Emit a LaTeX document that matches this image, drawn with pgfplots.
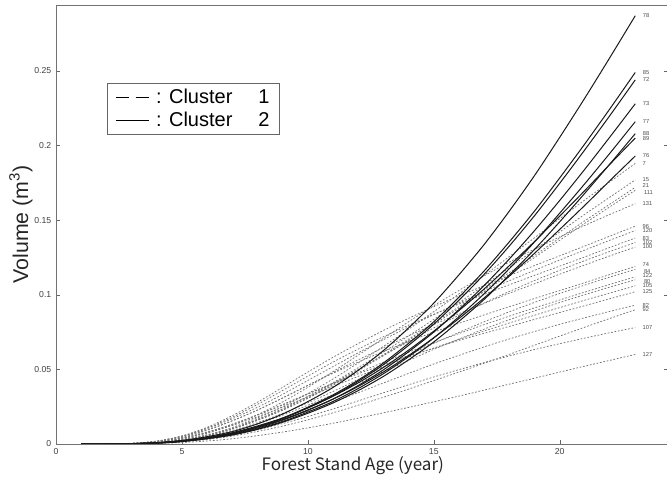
\documentclass[border=0pt]{standalone}
\usepackage{pgfplots}
\pgfplotsset{compat=1.18}
\usepackage{pgfplotstable}
\usepackage{fontspec}
\setmainfont{Liberation Sans}
\newfontfamily\jpfont{Noto Sans CJK JP}

% Stem volume (m^3) by stand age, cluster 2 (solid)
\pgfplotstableread{
t  c78    c85    c72    c73    c77    c88    c89    c76
1  0      0      0      0      0      0      0      0
2  0      0      0      0      0      0      0      0
3  0.0003 0.0002 0.0002 0.0002 0.0002 0.0002 0.0002 0.0002
4  0.0009 0.0007 0.0007 0.0007 0.0006 0.0006 0.0008 0.0008
5  0.0023 0.0020 0.0020 0.0018 0.0017 0.0017 0.0023 0.0021
6  0.0049 0.0042 0.0041 0.0039 0.0037 0.0035 0.0043 0.0041
7  0.0083 0.0072 0.0071 0.0066 0.0063 0.0060 0.0076 0.0071
8  0.0135 0.0117 0.0115 0.0107 0.0102 0.0098 0.0121 0.0114
9  0.0201 0.0174 0.0171 0.0160 0.0151 0.0146 0.0174 0.0164
10 0.0284 0.0247 0.0242 0.0226 0.0214 0.0206 0.0242 0.0228
11 0.0379 0.0329 0.0322 0.0301 0.0285 0.0275 0.0320 0.0301
12 0.0494 0.0428 0.0420 0.0392 0.0372 0.0358 0.0410 0.0386
13 0.0626 0.0543 0.0532 0.0497 0.0471 0.0453 0.0513 0.0483
14 0.0778 0.0675 0.0661 0.0618 0.0585 0.0564 0.0629 0.0593
15 0.0944 0.0819 0.0803 0.0750 0.0711 0.0684 0.0756 0.0712
16 0.1134 0.0984 0.0964 0.0901 0.0853 0.0822 0.0894 0.0841
17 0.1337 0.1160 0.1137 0.1062 0.1007 0.0969 0.1039 0.0979
18 0.1561 0.1355 0.1327 0.1240 0.1175 0.1132 0.1195 0.1125
19 0.1799 0.1561 0.1530 0.1430 0.1354 0.1304 0.1357 0.1278
20 0.2055 0.1783 0.1747 0.1632 0.1547 0.1489 0.1527 0.1438
21 0.2319 0.2012 0.1972 0.1842 0.1745 0.1681 0.1699 0.1600
22 0.2592 0.2248 0.2203 0.2059 0.1950 0.1878 0.1876 0.1766
23 0.287  0.249  0.244  0.228  0.216  0.208  0.205  0.193
}\solidtab

% Stem volume (m^3) by stand age, cluster 1 (dashed)
\pgfplotstableread{
t  c7     c15    c21    c111   c131   c96    c120   c83    c102   c100   c74    c84    c122   c80    c105   c125   c82    c92    c107   c127
1  0      0      0      0      0      0      0      0      0      0      0      0      0      0      0      0      0      0      0      0
2  0      0      0      0      0      0      0      0      0      0      0      0      0      0      0      0      0      0      0      0
3  0.0002 0.0002 0.0002 0.0002 0.0003 0.0004 0.0004 0.0004 0.0003 0.0004 0.0004 0.0002 0.0003 0.0002 0.0003 0.0003 0.0002 0.0001 0.0002 0.0001
4  0.0009 0.0009 0.0009 0.0009 0.0013 0.0019 0.0020 0.0018 0.0011 0.0018 0.0015 0.0009 0.0016 0.0009 0.0015 0.0013 0.0007 0.0005 0.0006 0.0003
5  0.0030 0.0028 0.0028 0.0027 0.0035 0.0054 0.0053 0.0051 0.0030 0.0049 0.0044 0.0026 0.0041 0.0024 0.0039 0.0038 0.0020 0.0014 0.0017 0.0010
6  0.0062 0.0058 0.0057 0.0056 0.0072 0.0112 0.0103 0.0106 0.0061 0.0095 0.0092 0.0053 0.0081 0.0050 0.0076 0.0079 0.0042 0.0030 0.0035 0.0020
7  0.0111 0.0104 0.0101 0.0100 0.0126 0.0190 0.0169 0.0179 0.0105 0.0156 0.0155 0.0091 0.0132 0.0086 0.0125 0.0133 0.0073 0.0053 0.0061 0.0035
8  0.0175 0.0165 0.0160 0.0158 0.0196 0.0280 0.0246 0.0265 0.0165 0.0227 0.0228 0.0143 0.0193 0.0134 0.0182 0.0196 0.0113 0.0084 0.0095 0.0056
9  0.0250 0.0235 0.0229 0.0226 0.0282 0.0380 0.0333 0.0359 0.0236 0.0308 0.0309 0.0205 0.0261 0.0193 0.0247 0.0265 0.0163 0.0120 0.0137 0.0080
10 0.0338 0.0319 0.0310 0.0306 0.0380 0.0482 0.0426 0.0455 0.0319 0.0393 0.0393 0.0276 0.0334 0.0260 0.0316 0.0337 0.0219 0.0162 0.0184 0.0108
11 0.0436 0.0411 0.0399 0.0394 0.0485 0.0581 0.0519 0.0549 0.0406 0.0479 0.0474 0.0352 0.0407 0.0331 0.0385 0.0406 0.0280 0.0209 0.0235 0.0139
12 0.0543 0.0512 0.0497 0.0491 0.0596 0.0673 0.0611 0.0636 0.0500 0.0564 0.0549 0.0433 0.0478 0.0407 0.0453 0.0470 0.0344 0.0260 0.0289 0.0173
13 0.0654 0.0616 0.0599 0.0592 0.0708 0.0761 0.0699 0.0719 0.0594 0.0645 0.0620 0.0515 0.0548 0.0484 0.0518 0.0531 0.0409 0.0313 0.0343 0.0209
14 0.0769 0.0724 0.0703 0.0695 0.0819 0.0842 0.0785 0.0796 0.0687 0.0725 0.0687 0.0596 0.0615 0.0560 0.0582 0.0589 0.0473 0.0368 0.0397 0.0245
15 0.0887 0.0835 0.0812 0.0802 0.0927 0.0920 0.0867 0.0869 0.0778 0.0800 0.0750 0.0674 0.0679 0.0634 0.0642 0.0643 0.0536 0.0425 0.0449 0.0283
16 0.1006 0.0947 0.0920 0.0910 0.1029 0.0993 0.0945 0.0938 0.0863 0.0873 0.0809 0.0748 0.0740 0.0703 0.0701 0.0694 0.0594 0.0482 0.0498 0.0321
17 0.1130 0.1064 0.1034 0.1022 0.1127 0.1061 0.1021 0.1003 0.0945 0.0942 0.0865 0.0819 0.0800 0.0770 0.0757 0.0742 0.0651 0.0541 0.0546 0.0361
18 0.1256 0.1182 0.1149 0.1136 0.1219 0.1129 0.1094 0.1067 0.1022 0.1010 0.0920 0.0886 0.0857 0.0833 0.0811 0.0788 0.0704 0.0601 0.0590 0.0401
19 0.1382 0.1301 0.1264 0.1250 0.1306 0.1196 0.1164 0.1130 0.1095 0.1074 0.0975 0.0949 0.0912 0.0892 0.0863 0.0835 0.0754 0.0662 0.0633 0.0441
20 0.1510 0.1421 0.1381 0.1365 0.1388 0.1261 0.1233 0.1192 0.1164 0.1138 0.1028 0.1009 0.0965 0.0948 0.0914 0.0881 0.0802 0.0723 0.0672 0.0482
21 0.1636 0.1540 0.1496 0.1479 0.1465 0.1327 0.1300 0.1254 0.1229 0.1200 0.1082 0.1065 0.1018 0.1001 0.0964 0.0927 0.0846 0.0783 0.0710 0.0522
22 0.1758 0.1655 0.1608 0.1590 0.1539 0.1394 0.1366 0.1318 0.1291 0.1261 0.1136 0.1119 0.1070 0.1052 0.1012 0.0974 0.0889 0.0842 0.0746 0.0561
23 0.188  0.177  0.172  0.170  0.161  0.146  0.143  0.138  0.135  0.132  0.119  0.117  0.112  0.110  0.106  0.102  0.093  0.090  0.078  0.060
}\dashtab

\pgfplotsset{
  clusterone/.style={black!55, line width=0.55pt, dash pattern=on 1.3pt off 1.3pt, smooth},
  clustertwo/.style={black!90, line width=0.75pt, smooth},
}
\tikzset{
  endlabel/.style={anchor=west, xshift=5pt, inner sep=0.3pt,
    font=\fontsize{4.3}{4.5}\selectfont, text=black!70},
}

\begin{document}
\begin{tikzpicture}
\begin{axis}[
  name=ax,
  scale only axis,
  width=459pt, height=329.25pt,
  xmin=0, xmax=24.3, ymin=0, ymax=0.2942,
  axis line style={black!55},
  tick align=inside,
  major tick length=3pt,
  tick style={black!60},
  xtick={0,5,10,15,20},
  xticklabels={0,5,10,15,20},
  ytick={0,0.05,0.1,0.15,0.2,0.25},
  yticklabels={0,0.05,0.1,0.15,0.2,0.25},
  xtick pos=bottom,
  ytick pos=both,
  ticklabel style={font=\fontsize{6.5}{7}\selectfont, text=black!75},
  xlabel={\jpfont Forest Stand Age (year)},
  xlabel style={at={(axis description cs:0.485,0)}, anchor=north, yshift=-9pt,
    inner sep=0pt, font=\fontsize{12.8}{14}\selectfont, text=black!85},
  ylabel={Volume (m\textsuperscript{3})},
  ylabel style={at={(axis description cs:-0.038,0.5)}, anchor=south,
    inner sep=0pt, font=\fontsize{16}{18}\selectfont, text=black!85},
  legend style={at={(axis description cs:0.083,0.822)}, anchor=north west,
    draw=black!60, fill=white, font=\fontsize{15}{16}\selectfont,
    inner xsep=6pt, inner ysep=3.5pt, row sep=2.5pt,
    nodes={inner sep=1pt}, cells={anchor=west}},
  legend image code/.code={\draw[#1] (0pt,0pt) -- (25pt,0pt);},
]
\addlegendimage{black, line width=0.8pt, dash pattern=on 10pt off 5pt}
\addlegendentry{\hspace{4pt}: Cluster\hspace{1.3em}1\hspace{6pt}}
\addlegendimage{black, line width=0.8pt}
\addlegendentry{\hspace{4pt}: Cluster\hspace{1.3em}2\hspace{6pt}}

% cluster 1: labels of near-coincident end points are nudged apart
\pgfplotsinvokeforeach{7,15,131,96,120,83,102,100,105,125,82,92,107,127}{
  \addplot[clusterone, forget plot] table[x=t, y=c#1] {\dashtab} node[endlabel, pos=1] {#1};
}
\pgfplotsinvokeforeach{21,74,122}{
  \addplot[clusterone, forget plot] table[x=t, y=c#1] {\dashtab} node[endlabel, pos=1, yshift=1.4pt] {#1};
}
\pgfplotsinvokeforeach{111,84,80}{
  \addplot[clusterone, forget plot] table[x=t, y=c#1] {\dashtab} node[endlabel, pos=1, yshift=-1.4pt, xshift=1pt] {#1};
}
% cluster 2
\pgfplotsinvokeforeach{78,85,72,73,77,88,89,76}{
  \addplot[clustertwo, forget plot] table[x=t, y=c#1] {\solidtab} node[endlabel, pos=1] {#1};
}
\end{axis}
\pgfresetboundingbox
\path[use as bounding box] ([shift={(-42pt,-30pt)}]ax.south west) rectangle ([shift={(-0.75pt,3.75pt)}]ax.north east);
\end{tikzpicture}
\end{document}
